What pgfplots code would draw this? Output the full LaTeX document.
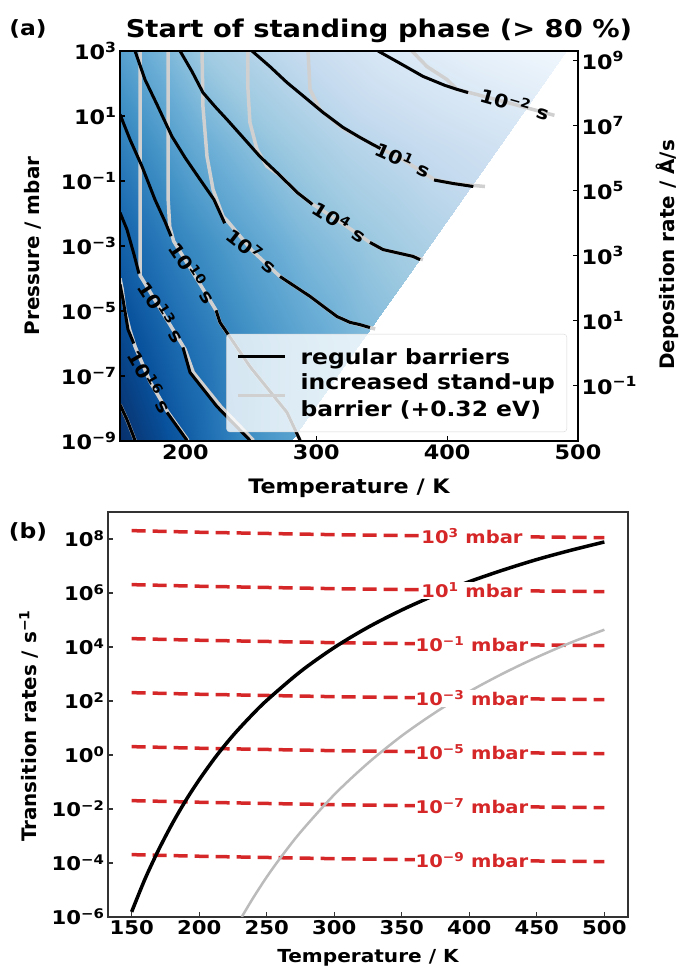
\documentclass[border=0pt]{standalone}
\usepackage{fontspec}
\setmainfont{DejaVu Sans}[FakeStretch=1.12]
\newfontfamily\rotfont{DejaVu Sans}
\usepackage{pgfplots}
\pgfplotsset{compat=1.18}
\newcommand\pw[1]{10\textsuperscript{#1}}
\definecolor{myred}{RGB}{214,39,40}
\definecolor{lgrey}{RGB}{208,208,208}
\definecolor{legbord}{RGB}{215,215,215}
\pgfplotsset{colormap={blues}{rgb255=(247,251,255) rgb255=(222,235,247) rgb255=(198,219,239) rgb255=(158,202,225) rgb255=(107,174,214) rgb255=(66,146,198) rgb255=(33,113,181) rgb255=(8,81,156) rgb255=(8,48,107)}}
\newcommand\fa{\bfseries\fontsize{20}{22}\selectfont}
\newcommand\fleg{\bfseries\fontsize{21}{27}\selectfont}
\newcommand\fb{\bfseries\fontsize{19}{21}\selectfont}
\newcommand\fr{\bfseries\fontsize{17.5}{20}\selectfont}
\newcommand\fc{\bfseries\fontsize{18.5}{20}\selectfont}
\begin{document}
\begin{tikzpicture}
\path[use as bounding box] (0bp,0bp) rectangle (679bp,972bp);
% ---------------- panel (a)
\begin{axis}[
  at={(120bp,531bp)}, anchor=south west,
  width=458bp, height=390bp, scale only axis,
  xmin=150, xmax=500, ymin=-9, ymax=3,
  axis on top,
  xtick={200,300,400,500}, xticklabels={200,300,400,500},
  ytick={-9,-7,-5,-3,-1,1,3},
  yticklabels={\pw{−9},\pw{−7},\pw{−5},\pw{−3},\pw{−1},\pw{1},\pw{3}},
  tick align=inside, xtick pos=bottom, ytick pos=left,
  major tick length=5bp,
  every tick/.style={black, line width=1.2bp},
  axis line style={line width=1.6bp},
  tick label style={font=\fa},
  colormap name=blues, point meta min=0, point meta max=1,
  legend style={at={(0.976,0.023)}, anchor=south east, fill=white, fill opacity=0.8, text opacity=1, draw=legbord, rounded corners=3bp, font=\fleg, cells={align=left}, inner xsep=10bp, inner ysep=12bp, row sep=4bp, /tikz/every odd column/.append style={column sep=12bp}},
  legend cell align=left,
  legend image code/.code={\draw[#1] (0bp,0bp) -- (47bp,0bp);},
]
\addplot[surf, shader=interp, mesh/cols=6, point meta=explicit, forget plot] table[x=T, y=L, meta=c] {
T L c
150 -9 1.00
176.2 -9 0.92
202.4 -9 0.82
228.6 -9 0.72
254.8 -9 0.62
281 -9 0.56
150 -6 0.92
186.7 -6 0.80
223.4 -6 0.70
260.1 -6 0.61
296.8 -6 0.53
333.5 -6 0.46
150 -3 0.82
197.2 -3 0.68
244.4 -3 0.56
291.6 -3 0.46
338.8 -3 0.39
386 -3 0.33
150 0 0.70
207.7 0 0.52
265.4 0 0.40
323.1 0 0.31
380.8 0 0.25
438.5 0 0.20
150 3 0.56
218.2 3 0.36
286.4 3 0.25
354.6 3 0.15
422.8 3 0.08
491 3 0.03
};
% grey contours (increased stand-up barrier)
\addplot[lgrey, line width=3.5bp, forget plot] coordinates {(373.1,3.0)(384.6,2.52)(399.9,2.12)(407.5,1.82)(422.8,1.66)(451,1.36)(482,1.02)};
\addplot[lgrey, line width=3.5bp, forget plot] coordinates {(293.7,3.0)(295.2,1.82)(302.8,1.2)(318.1,0.68)(321.9,0.58)(333.4,0.34)(343.3,0.12)(366,-0.34)(390,-0.95)(405,-1.08)(428.9,-1.17)};
\addplot[lgrey, line width=3.5bp, forget plot] coordinates {(247.8,3.0)(247.8,1.82)(249.3,0.8)(254.7,-0.03)(262.3,-0.55)(272.3,-0.83)(285.3,-1.35)(295.2,-1.66)(318,-2.25)(341,-2.89)(351,-3.11)(373.9,-3.32)(381.5,-3.42)};
\addplot[lgrey, line width=3.5bp, forget plot] coordinates {(212.7,3.0)(213.4,1.29)(216.5,-0.25)(221.1,-1.26)(228.7,-2.09)(232.5,-2.25)(250.9,-3.14)(272.3,-3.94)(295.2,-4.55)(315.8,-5.17)(325.8,-5.35)(341,-5.51)(345,-5.55)};
\addplot[lgrey, line width=3.5bp, forget plot] coordinates {(186.7,3.0)(186.7,-1.5)(188,-2.4)(191,-2.85)(205.8,-3.82)(223.4,-4.98)(226.4,-5.35)(249.3,-6.71)(277.6,-8.12)(287.6,-8.98)};
\addplot[lgrey, line width=3.5bp, forget plot] coordinates {(165.3,3.0)(165.3,-3.9)(182.1,-5.02)(199.7,-6.18)(206,-6.89)(227,-7.94)(252,-8.98)};
\addplot[lgrey, line width=3.5bp, forget plot] coordinates {(150,-4.0)(151.5,-4.3)(153.8,-5.0)(157.6,-5.6)(161.5,-6.09)(172.9,-7.17)(186.7,-8.12)(202,-8.98)};
\addplot[lgrey, line width=3.5bp, forget plot] coordinates {(150,-7.88)(155.3,-8.34)(161.5,-8.98)};
% black contours (regular barriers)
\addplot[black, line width=3bp, forget plot] coordinates {(347.2,3.0)(364.0,2.62)(381.5,2.22)(398.4,1.94)(407.5,1.82)(416,1.72)};
\addplot[black, line width=3bp, forget plot] coordinates {(250.9,3.0)(264.6,2.52)(277.6,2.03)(291.4,1.57)(305.1,1.11)(320.4,0.65)(333.4,0.34)(343.3,0.12)(349,0.0)};
\addplot[black, line width=3bp, forget plot] coordinates {(390,-0.97)(405,-1.08)(420,-1.17)};
\addplot[black, line width=3bp, forget plot] coordinates {(195.9,3.0)(205.0,2.37)(213.4,1.72)(222.6,1.29)(231.8,0.89)(244.0,0.34)(257.0,-0.25)(272.3,-0.83)(285.3,-1.35)(295.2,-1.66)(297,-1.72)};
\addplot[black, line width=3bp, forget plot] coordinates {(341.0,-2.89)(351.0,-3.11)(373.9,-3.32)(379.3,-3.42)};
\addplot[black, line width=3bp, forget plot] coordinates {(161.5,3.0)(169.1,2.12)(178.3,1.35)(189.7,0.37)(199.7,-0.28)(211.1,-0.95)(221.8,-1.57)(230,-2.3)};
\addplot[black, line width=3bp, forget plot] coordinates {(272.3,-3.94)(295.2,-4.55)(315.8,-5.17)(325.8,-5.35)(333.4,-5.42)(341,-5.51)};
\addplot[black, line width=3bp, forget plot] coordinates {(150,1.05)(157.6,0.28)(166.8,-0.55)(176.7,-1.57)(184.4,-2.25)(189,-2.7)};
\addplot[black, line width=3bp, forget plot] coordinates {(223.4,-4.98)(226.4,-5.35)(249.3,-6.71)(277.6,-8.12)(287.6,-8.98)};
\addplot[black, line width=3bp, forget plot] coordinates {(150,-1.97)(155.3,-2.49)(160.7,-3.26)(164.5,-3.85)};
\addplot[black, line width=3bp, forget plot] coordinates {(198.1,-6.12)(203.5,-6.89)(224.1,-7.94)(249.3,-8.98)};
\addplot[black, line width=3bp, forget plot] coordinates {(150,-4.18)(152.3,-4.65)(156.1,-5.57)(160.5,-6.0)};
\addplot[black, line width=3bp, forget plot] coordinates {(185.9,-8.12)(201.2,-8.98)};
\addplot[black, line width=3bp, forget plot] coordinates {(150,-7.88)(155.3,-8.34)(161.5,-8.98)};
% contour labels
\node[font=\fc, rotate=-16] at (axis cs:451.8,1.38) {\pw{−2} s};
\node[font=\fc, rotate=-24] at (axis cs:366.3,-0.34) {\pw{1} s};
\node[font=\fc, rotate=-32] at (axis cs:318.1,-2.25) {\pw{4} s};
\node[font=\fc, rotate=-38] at (axis cs:250.9,-3.14) {\pw{7} s};
\node[font=\fc, rotate=-56] at (axis cs:205.8,-3.82) {\pw{10} s};
\node[font=\fc, rotate=-57] at (axis cs:182.1,-5.02) {\pw{13} s};
\node[font=\fc, rotate=-60] at (axis cs:172.9,-7.17) {\pw{16} s};
\addlegendimage{black, line width=3bp}
\addlegendentry{regular barriers}
\addlegendimage{lgrey, line width=3bp}
\addlegendentry{increased stand-up\\barrier (+0.32 eV)}
\end{axis}
% right axis: deposition rate
\begin{axis}[
  at={(120bp,531bp)}, anchor=south west,
  width=458bp, height=390bp, scale only axis,
  xmin=150, xmax=500, ymin=-2.71, ymax=9.29,
  axis x line=none, axis y line*=right,
  ytick={-1,1,3,5,7,9},
  yticklabels={\pw{−1},\pw{1},\pw{3},\pw{5},\pw{7},\pw{9}},
  tick align=inside,
  major tick length=5bp,
  every tick/.style={black, line width=1.2bp},
  axis line style={line width=1.6bp},
  tick label style={font=\fa},
]
\addplot[draw=none] coordinates {(150,0)};
\end{axis}
\node[font=\rotfont\bfseries\fontsize{20}{22}\selectfont, rotate=90] at (33bp,726bp) {Pressure / mbar};
\node[font=\rotfont\bfseries\fontsize{20}{22}\selectfont, rotate=90] at (667bp,717bp) {Deposition rate / Å/s};
\node[font=\fa] at (349bp,484bp) {Temperature / K};
\node[font=\bfseries\fontsize{24.5}{27}\selectfont, anchor=base] at (379bp,934bp) {Start of standing phase (> 80 \%)};
\node[font=\bfseries\fontsize{21}{24}\selectfont] at (28bp,943bp) {(a)};
% ---------------- panel (b)
\begin{axis}[
  at={(108bp,55bp)}, anchor=south west,
  width=520bp, height=405bp, scale only axis,
  xmin=132.5, xmax=517.5, ymin=-6, ymax=9,
  xtick={150,200,250,300,350,400,450,500},
  xticklabels={150,200,250,300,350,400,450,500},
  ytick={-6,-4,-2,0,2,4,6,8},
  yticklabels={\pw{−6},\pw{−4},\pw{−2},\pw{0},\pw{2},\pw{4},\pw{6},\pw{8}},
  tick align=inside, xtick pos=bottom, ytick pos=left,
  major tick length=5bp,
  every tick/.style={black!80, line width=1.2bp},
  axis line style={line width=1.3bp, black!80},
  tick label style={font=\fb},
]
\foreach \p/\a/\b/\c/\d/\e in {3/8.31/8.25/8.16/8.10/8.05, 1/6.31/6.25/6.16/6.10/6.05, -1/4.31/4.25/4.16/4.10/4.05, -3/2.31/2.25/2.16/2.10/2.05, -5/0.31/0.25/0.16/0.10/0.05, -7/-1.69/-1.75/-1.84/-1.90/-1.95, -9/-3.69/-3.75/-3.84/-3.90/-3.95}{
  \edef\tmp{\noexpand\addplot[myred, line width=3.5bp, dash pattern=on 14bp off 7bp] coordinates {(150,\a)(200,\b)(300,\c)(400,\d)(500,\e)};}
  \tmp
}
\addplot[black, line width=3.5bp, smooth] coordinates {(150,-5.81)(160,-4.58)(170,-3.51)(180,-2.55)(190,-1.69)(200,-0.92)(212.5,-0.05)(225,0.72)(237.5,1.40)(250,2.02)(275,3.09)(300,3.98)(325,4.73)(350,5.37)(375,5.93)(400,6.42)(425,6.85)(450,7.24)(475,7.58)(500,7.89)};
\addplot[lgrey!90!black, line width=2.5bp, smooth] coordinates {(231.5,-6.0)(240,-5.29)(250,-4.52)(260,-3.82)(275,-2.86)(300,-1.47)(325,-0.30)(350,0.71)(375,1.58)(400,2.35)(425,3.02)(450,3.62)(475,4.16)(500,4.64)};
\foreach \p/\y in {3/8.10, 1/6.10, −1/4.10, −3/2.10, −5/0.10, −7/-1.90, −9/-3.90}{
  \edef\tmp{\noexpand\node[font=\noexpand\fr, text=myred, fill=white, inner sep=1bp] at (axis cs:402,\y) {\noexpand\pw{\p} mbar};}
  \tmp
}
\end{axis}
\node[font=\rotfont\bfseries\fontsize{20}{22}\selectfont, rotate=90] at (29bp,246bp) {Transition rates / s\textsuperscript{−1}};
\node[font=\bfseries\fontsize{18}{20}\selectfont] at (368bp,14bp) {Temperature / K};
\node[font=\bfseries\fontsize{21}{24}\selectfont] at (28bp,440bp) {(b)};
\end{tikzpicture}
\end{document}
